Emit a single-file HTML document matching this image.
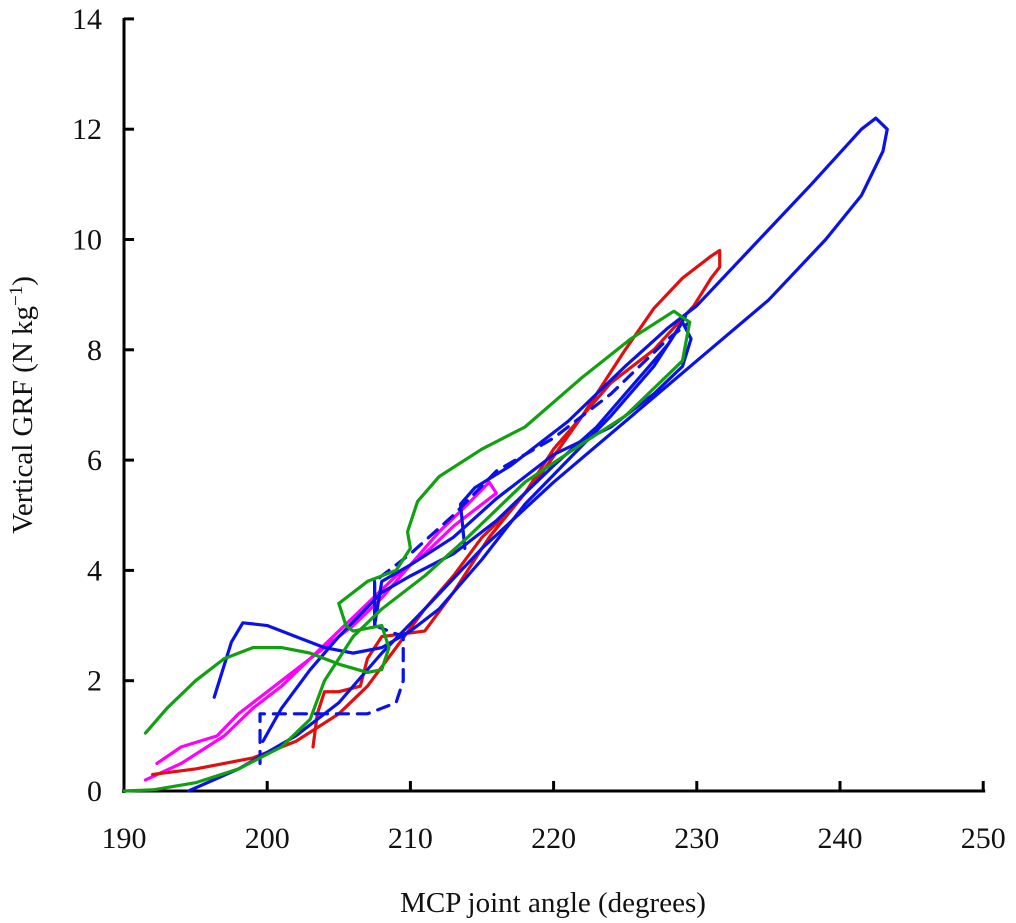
<!DOCTYPE html>
<html><head><meta charset="utf-8"><style>
body{margin:0;background:#fff}
svg text{font-family:"Liberation Serif",serif;fill:#111}
</style></head><body>
<svg width="1016" height="918" viewBox="0 0 1016 918">
<g id="axes"></g><g id="series"></g>
<text x="553" y="912" font-size="29" text-anchor="middle">MCP joint angle (degrees)</text>
<text transform="translate(32,405) rotate(-90)" font-size="29" text-anchor="middle">Vertical GRF (N kg<tspan baseline-shift="super" font-size="19">−1</tspan>)</text>
</svg>
<script>
const xTicks=[190,200,210,220,230,240,250];
const yTicks=[0,2,4,6,8,10,12,14];
const blueBig=[[194.5,0],[198,0.4],[202,1.0],[205,1.6],[208,2.5],[211,3.3],[215,4.4],[220,5.6],[225,6.7],[230,7.8],[235,8.9],[239,10.0],[241.5,10.8],[243,11.6],[243.3,12.0],[242.5,12.2],[241.5,12.0],[238,11.0],[234,9.9],[230,8.8],[228,8.4],[225,7.7],[221,6.7],[217,5.9],[214.5,5.5],[213.5,5.2],[213.8,4.4]];
const blueWiggle=[[196.3,1.7],[197.5,2.7],[198.3,3.05],[200,3.0],[202,2.8],[204,2.6],[206,2.5],[208,2.6],[210,2.9],[212,3.3],[215,4.2],[218,5.2],[221,6.0],[224,6.8],[227,7.7],[229,8.5],[229.6,8.2],[229,7.7],[227,7.2],[224,6.6],[220,6.1],[216,5.3],[213,4.6],[210,4.1],[208,3.8],[207.5,3.0],[207.5,3.8]];
const blueDashed=[[199.5,0.5],[199.5,1.4],[202,1.4],[205,1.4],[207,1.4],[209,1.6],[209.5,2.0],[209.5,2.8],[207.5,3.0],[207.5,3.8],[210,4.3],[213,5.0],[216,5.8],[220,6.4],[224,7.2],[228,8.2],[229.5,8.5]];
const blueLow=[[199.7,0.9],[201,1.5],[203,2.2],[205,2.8],[208,3.6],[210,3.9],[213,4.3],[216,4.9],[218,5.4],[220,5.9],[223,6.6],[226,7.5],[228,8.1],[229.2,8.6]];
const red=[[192,0.3],[195,0.4],[199,0.6],[202,0.9],[205,1.4],[207,1.9],[209,2.6],[211,3.3],[213,3.9],[215,4.6],[217,5.1],[219,5.7],[222,6.8],[225,8.0],[227,8.75],[229,9.3],[231,9.7],[231.6,9.8],[231.6,9.5],[231,9.3],[229.8,8.8],[227,8.0],[224,7.4],[220,6.2],[218,5.4],[215.5,4.6],[213,3.6],[211,2.9],[208,2.8],[207,2.4],[206.5,1.9],[205,1.8],[204,1.8],[203.5,1.4],[203.2,0.8]];
const magenta=[[191.5,0.2],[194,0.5],[197,1.0],[199,1.5],[201,1.9],[203,2.4],[205,2.9],[207,3.4],[209,3.9],[211,4.3],[213,4.8],[215,5.2],[216,5.4],[215.5,5.6],[214,5.2],[212,4.7],[210,4.1],[208,3.5],[206,3.0],[204,2.6],[202,2.2],[200,1.8],[198,1.4],[196.5,1.0],[194,0.8],[192.3,0.5]];
const green=[[191.5,1.05],[193,1.5],[195,2.0],[197,2.4],[199,2.6],[201,2.6],[203,2.5],[205,2.3],[207,2.15],[208,2.2],[208.5,2.6],[208,3.0],[206,2.9],[205.5,3.0],[205,3.4],[207,3.8],[209,4.0],[210,4.4],[209.8,4.7],[210.5,5.25],[212,5.7],[215,6.2],[218,6.6],[222,7.5],[225.4,8.2],[228.4,8.7],[229.5,8.5],[229,7.8],[227,7.3],[225,6.8],[222,6.3],[218,5.6],[214,4.6],[211,3.9],[208,3.3],[206,2.8],[204,2.0],[203,1.3],[201,0.8],[198,0.4],[195,0.15],[192,0.02],[190,0]];
const X=a=>124+(a-190)*14.32, Y=f=>791-f*55.15;
const NS="http://www.w3.org/2000/svg";
const ax=document.getElementById('axes'), se=document.getElementById('series');
function mk(tag,attrs,parent){const e=document.createElementNS(NS,tag);for(const k in attrs)e.setAttribute(k,attrs[k]);parent.appendChild(e);return e;}
let e=mk('line',{x1:124,y1:18,x2:124,y2:793,stroke:'#000','stroke-width':3},ax);


e=mk('line',{x1:122,y1:791,x2:X(250)+2,y2:791,stroke:'#000','stroke-width':3},ax);


xTicks.forEach(t=>{
 let l=mk('line',{x1:X(t),y1:791,x2:X(t),y2:781,stroke:'#000','stroke-width':3},ax);
 
 
 let tx=mk('text',{x:X(t),y:848,'font-size':30,'text-anchor':'middle'},ax);tx.textContent=t;
 
 
});
yTicks.forEach(t=>{
 let l=mk('line',{x1:124,y1:Y(t),x2:134,y2:Y(t),stroke:'#000','stroke-width':3},ax);
 
 
 let tx=mk('text',{x:102,y:Y(t)+10,'font-size':30,'text-anchor':'end'},ax);tx.textContent=t;
 
 
});
function line(data,color,name,dash){
 const p=mk('polyline',{points:data.map(d=>X(d[0])+','+Y(d[1])).join(' '),fill:'none',stroke:color,'stroke-width':3.2,'stroke-linejoin':'round','stroke-linecap':'round'},se);
 if(dash)p.setAttribute('stroke-dasharray',dash);
 
 
}
line(magenta,'#ff00ff','magenta-trial');
line(red,'#e01010','red-trial');
line(blueBig,'#0a12e6','blue-trial-large');
line(blueWiggle,'#0a12e6','blue-trial-wiggle');
line(blueLow,'#0a12e6','blue-trial-low');
line(blueDashed,'#0a12e6','blue-trial-dashed','12 9');
line(green,'#10a010','green-trial');
</script>
</body></html>
